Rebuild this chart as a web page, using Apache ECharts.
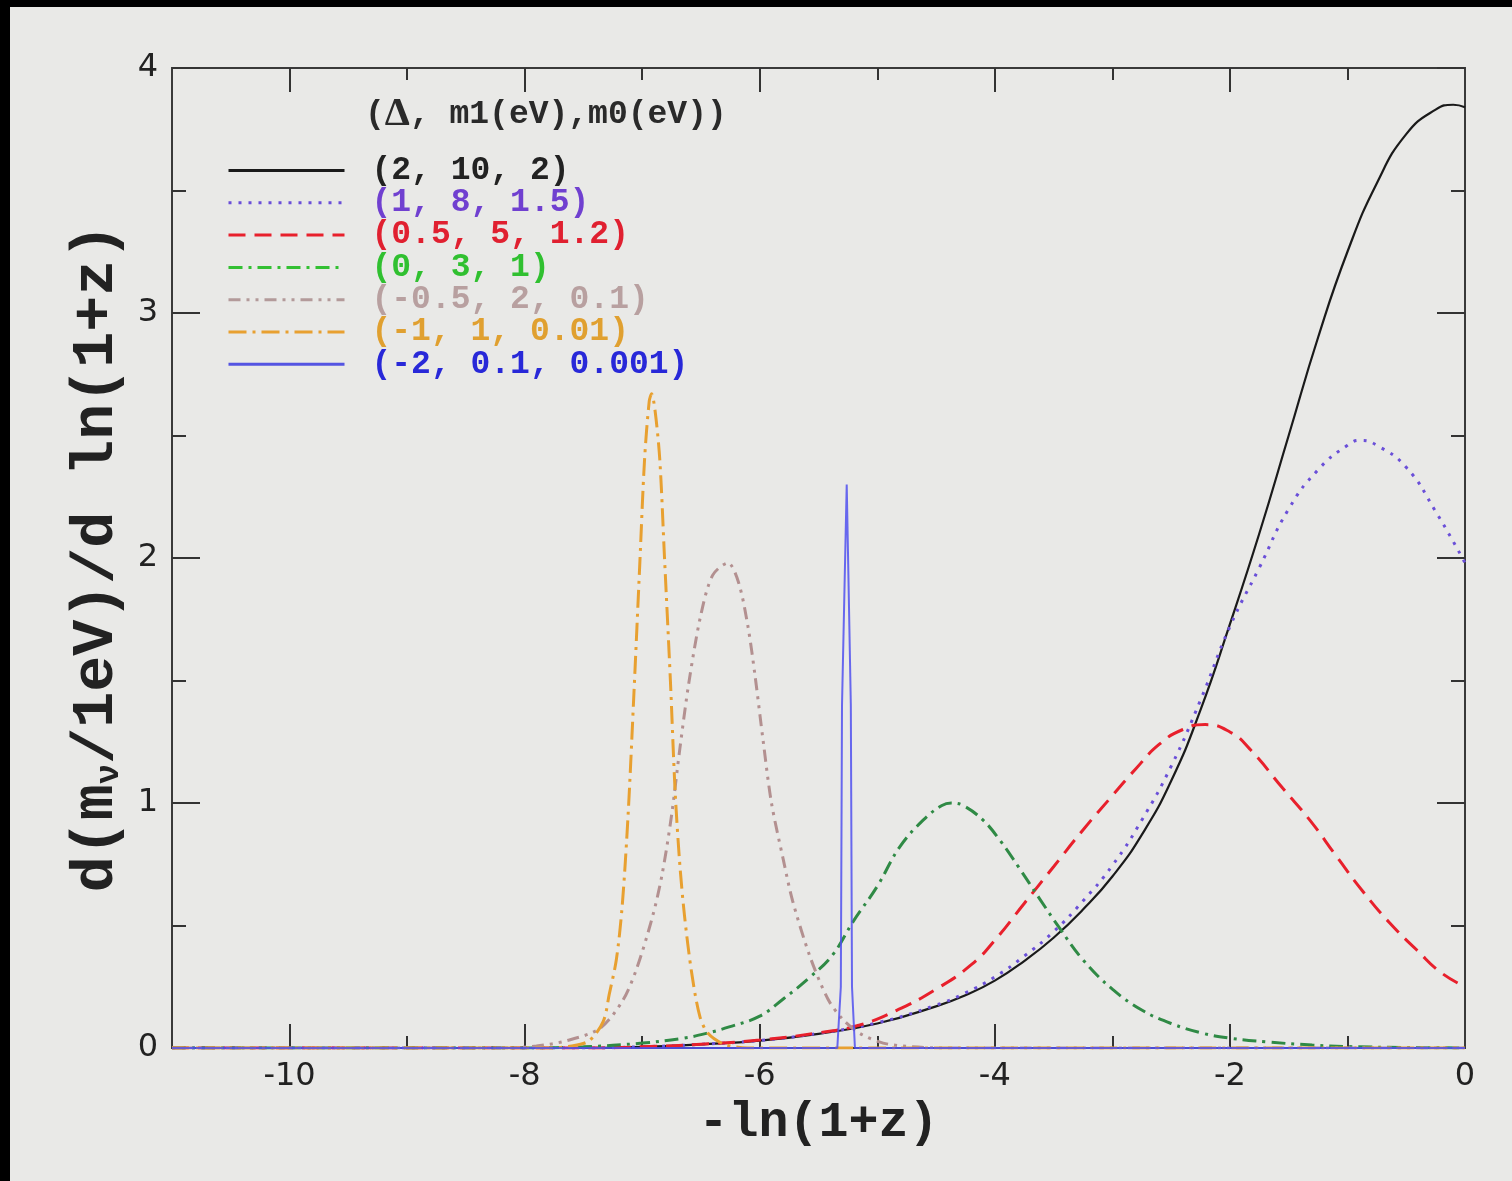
<!DOCTYPE html>
<html>
<head>
<meta charset="utf-8">
<script src="https://cdn.jsdelivr.net/npm/echarts@6/dist/echarts.min.js"></script>
<style>
  html, body { margin: 0; padding: 0; background: #e9e9e7; }
  #chart { width: 1512px; height: 1181px; }
</style>
</head>
<body>
<div id="chart"></div>
<script>
// ---- data ----
const xLabels = [-10, -8, -6, -4, -2, 0];
const xMajorTicks = [-10, -8, -6, -4, -2];
const xMinorTicks = [-9, -7, -5, -3, -1];

const names = ['(2, 10, 2)', '(1, 8, 1.5)', '(0.5, 5, 1.2)', '(0, 3, 1)', '(-0.5, 2, 0.1)', '(-1, 1, 0.01)', '(-2, 0.1, 0.001)'];

const blackData = [[-11,0],[-7.5,0],[-7,0.005],[-6.5,0.015],[-6,0.03],[-5.5,0.058],[-5,0.1],[-4.5,0.17],[-4.25,0.215],[-4,0.275],[-3.75,0.355],[-3.5,0.45],[-3.25,0.565],[-3,0.7],[-2.75,0.87],[-2.5,1.09],[-2.25,1.38],[-2,1.73],[-1.75,2.1],[-1.5,2.5],[-1.25,2.9],[-1,3.25],[-0.75,3.53],[-0.5,3.73],[-0.25,3.83],[-0.1,3.85],[0,3.84]];

const purpleData = [[-11,0],[-7.5,0],[-7,0.005],[-6.5,0.015],[-6,0.031],[-5.5,0.06],[-5,0.103],[-4.5,0.175],[-4.25,0.225],[-4,0.29],[-3.75,0.375],[-3.5,0.475],[-3.25,0.6],[-3,0.745],[-2.75,0.93],[-2.5,1.15],[-2.25,1.42],[-2,1.72],[-1.75,1.96],[-1.5,2.2],[-1.25,2.36],[-1,2.46],[-0.89,2.48],[-0.75,2.46],[-0.5,2.37],[-0.25,2.19],[0,1.98]];

const redData = [[-11,0],[-7.5,0],[-7,0.005],[-6.5,0.015],[-6,0.033],[-5.5,0.062],[-5.15,0.094],[-4.83,0.155],[-4.5,0.24],[-4.2,0.34],[-4,0.44],[-3.75,0.59],[-3.5,0.74],[-3.25,0.89],[-3,1.03],[-2.8,1.14],[-2.6,1.24],[-2.4,1.3],[-2.21,1.32],[-2,1.29],[-1.83,1.22],[-1.55,1.06],[-1.32,0.93],[-1.09,0.78],[-0.87,0.64],[-0.64,0.51],[-0.41,0.4],[-0.21,0.31],[0,0.25]];

const greenData = [[-11,0],[-8,0],[-7.5,0.005],[-7,0.02],[-6.65,0.04],[-6.45,0.06],[-6.26,0.086],[-6,0.13],[-5.8,0.2],[-5.57,0.29],[-5.38,0.38],[-5.2,0.52],[-5,0.66],[-4.81,0.82],[-4.61,0.93],[-4.45,0.99],[-4.37,1.0],[-4.27,0.99],[-4.1,0.93],[-3.96,0.85],[-3.8,0.74],[-3.62,0.61],[-3.45,0.49],[-3.25,0.36],[-3,0.24],[-2.75,0.155],[-2.5,0.1],[-2.23,0.06],[-2,0.04],[-1.69,0.025],[-1.3,0.012],[-1,0.006],[-0.5,0.002],[0,0]];

const brownData = [[-11,0],[-8.2,0],[-7.9,0.008],[-7.64,0.03],[-7.36,0.08],[-7.17,0.19],[-7.05,0.32],[-6.91,0.54],[-6.83,0.71],[-6.75,0.95],[-6.68,1.22],[-6.6,1.5],[-6.5,1.77],[-6.4,1.93],[-6.27,1.98],[-6.18,1.9],[-6.1,1.72],[-6.04,1.52],[-5.97,1.25],[-5.9,1.0],[-5.8,0.77],[-5.72,0.6],[-5.57,0.37],[-5.42,0.2],[-5.3,0.12],[-5.15,0.06],[-4.95,0.02],[-4.7,0.005],[-4.4,0],[0,0]];

const orangeData = [[-11,0],[-7.8,0],[-7.6,0.008],[-7.45,0.03],[-7.33,0.11],[-7.28,0.22],[-7.22,0.36],[-7.17,0.58],[-7.12,0.95],[-7.07,1.45],[-7.02,1.98],[-6.98,2.4],[-6.94,2.64],[-6.92,2.67],[-6.89,2.6],[-6.85,2.4],[-6.81,2.0],[-6.76,1.5],[-6.72,1.05],[-6.68,0.75],[-6.64,0.54],[-6.58,0.31],[-6.51,0.13],[-6.44,0.06],[-6.3,0.015],[-6.1,0],[0,0]];

const blueData = [[-11,0],[-5.34,0],[-5.31,0.25],[-5.30,1.4],[-5.26,2.3],[-5.225,1.4],[-5.215,0.25],[-5.19,0],[0,0]];

// ---- styles ----
const mono = 'Liberation Mono';
const tickColor = '#333';
const labelStyle = { fontFamily: 'DejaVu Sans', fontSize: 32, color: '#222' };

function xAx(pos, ticks, len, withLabels) {
  const a = {
    type: 'value', min: -11, max: 0, position: pos, gridIndex: 0,
    axisLine: { show: false, onZero: false }, splitLine: { show: false },
    axisTick: { show: true, inside: true, length: len, customValues: ticks, lineStyle: { color: tickColor, width: 2 } },
    axisLabel: { show: false }
  };
  if (withLabels) {
    a.axisLabel = Object.assign({ show: true, margin: 13, customValues: xLabels }, labelStyle);
    a.name = '-ln(1+z)';
    a.nameLocation = 'middle';
    a.nameGap = 50;
    a.nameTextStyle = { fontFamily: mono, fontWeight: 'bold', fontSize: 50, color: '#222' };
  }
  return a;
}
function yAx(pos, withLabels) {
  const a = {
    type: 'value', min: 0, max: 4, interval: 1, position: pos, gridIndex: 0,
    axisLine: { show: false, onZero: false }, splitLine: { show: false },
    axisTick: { show: true, inside: true, length: 28, lineStyle: { color: tickColor, width: 2 } },
    minorTick: { show: true, splitNumber: 2, length: 14, lineStyle: { color: tickColor, width: 2 } },
    axisLabel: { show: false }
  };
  if (withLabels) {
    a.axisLabel = Object.assign({ show: true, margin: 14 }, labelStyle);
    a.name = 'd(m{sub|ν}/1eV)/d ln(1+z)';
    a.nameLocation = 'middle';
    a.nameGap = 40;
    a.nameTextStyle = {
      fontFamily: mono, fontWeight: 'bold', fontSize: 60, color: '#222',
      rich: { sub: { fontFamily: mono, fontWeight: 'bold', fontSize: 34, color: '#222', verticalAlign: 'bottom', padding: [24, 0, 0, 0] } }
    };
  }
  return a;
}

const seriesDefs = [
  { name: names[0], data: blackData,  color: '#1a1a1a', type: 'solid',            width: 2.2, smooth: 0.5, legendColor: '#1a1a1a', textColor: '#222' },
  { name: names[1], data: purpleData, color: '#6a4fd8', type: [3, 7],             width: 3,   smooth: 0.5, legendColor: '#6a4fd8', textColor: '#7040d0' },
  { name: names[2], data: redData,    color: '#e8202c', type: [17, 9],            width: 3,   smooth: 0.5, legendColor: '#e8202c', textColor: '#e02030' },
  { name: names[3], data: greenData,  color: '#2f8a45', type: [14, 6, 3, 6],      width: 3,   smooth: 0.4, legendColor: '#33c033', textColor: '#30c030' },
  { name: names[4], data: brownData,  color: '#b39090', type: [12, 6, 3, 6, 3, 6], width: 3,  smooth: 0.3, legendColor: '#b39a9a', textColor: '#b8a0a0' },
  { name: names[5], data: orangeData, color: '#e8a030', type: [18, 6, 3, 6],      width: 3,   smooth: 0.3, legendColor: '#e8a030', textColor: '#e0a030' },
  { name: names[6], data: blueData,   color: '#5050ee', type: 'solid',            width: 2,   smooth: false, legendColor: '#3a3ae0', textColor: '#2828d8' }
];

const series = seriesDefs.map(d => ({
  name: d.name, type: 'line', xAxisIndex: 0, yAxisIndex: 0,
  data: d.data, symbol: 'none', showSymbol: false,
  smooth: d.smooth,
  lineStyle: { color: d.color, type: d.type, width: d.width, opacity: d.name === names[6] ? 0.85 : 1 },
  itemStyle: { color: d.color },
  emphasis: { disabled: true }
}));

const chart = echarts.init(document.getElementById('chart'), null, { renderer: 'canvas' });
chart.setOption({
  animation: false,
  backgroundColor: '#e9e9e7',
  title: {
    text: '({d|Δ}, m1(eV),m0(eV))',
    left: 360, top: 90,
    textStyle: {
      fontFamily: mono, fontWeight: 'bold', fontSize: 33, color: '#2a2a2a',
      rich: { d: { fontFamily: 'Liberation Serif', fontSize: 40, color: '#2a2a2a' } }
    }
  },
  legend: {
    orient: 'vertical', left: 222, top: 149,
    itemWidth: 116, itemHeight: 14, itemGap: -0.7,
    selectedMode: false,
    textStyle: { fontFamily: mono, fontWeight: 'bold', fontSize: 33, lineHeight: 30, padding: [0, 0, 0, 22] },
    data: seriesDefs.map(d => ({
      name: d.name,
      textStyle: { color: d.textColor },
      lineStyle: { color: d.legendColor, type: d.type, width: 3 },
      itemStyle: { color: 'transparent', opacity: 0, borderWidth: 0 }
    }))
  },
  grid: {
    left: 172, top: 68, width: 1293, height: 980,
    show: true, borderColor: '#3a3a3a', borderWidth: 2, backgroundColor: 'transparent'
  },
  xAxis: [
    xAx('bottom', xMajorTicks, 24, true),
    xAx('bottom', xMinorTicks, 12, false),
    xAx('top', xMajorTicks, 24, false),
    xAx('top', xMinorTicks, 12, false)
  ],
  yAxis: [yAx('left', true), yAx('right', false)],
  graphic: [
    { type: 'rect', left: 0, top: 0, shape: { width: 10, height: 1181 }, style: { fill: '#000' }, silent: true },
    { type: 'rect', left: 0, top: 0, shape: { width: 1512, height: 7 }, style: { fill: '#000' }, silent: true }
  ],
  series: series
});
</script>
</body>
</html>
